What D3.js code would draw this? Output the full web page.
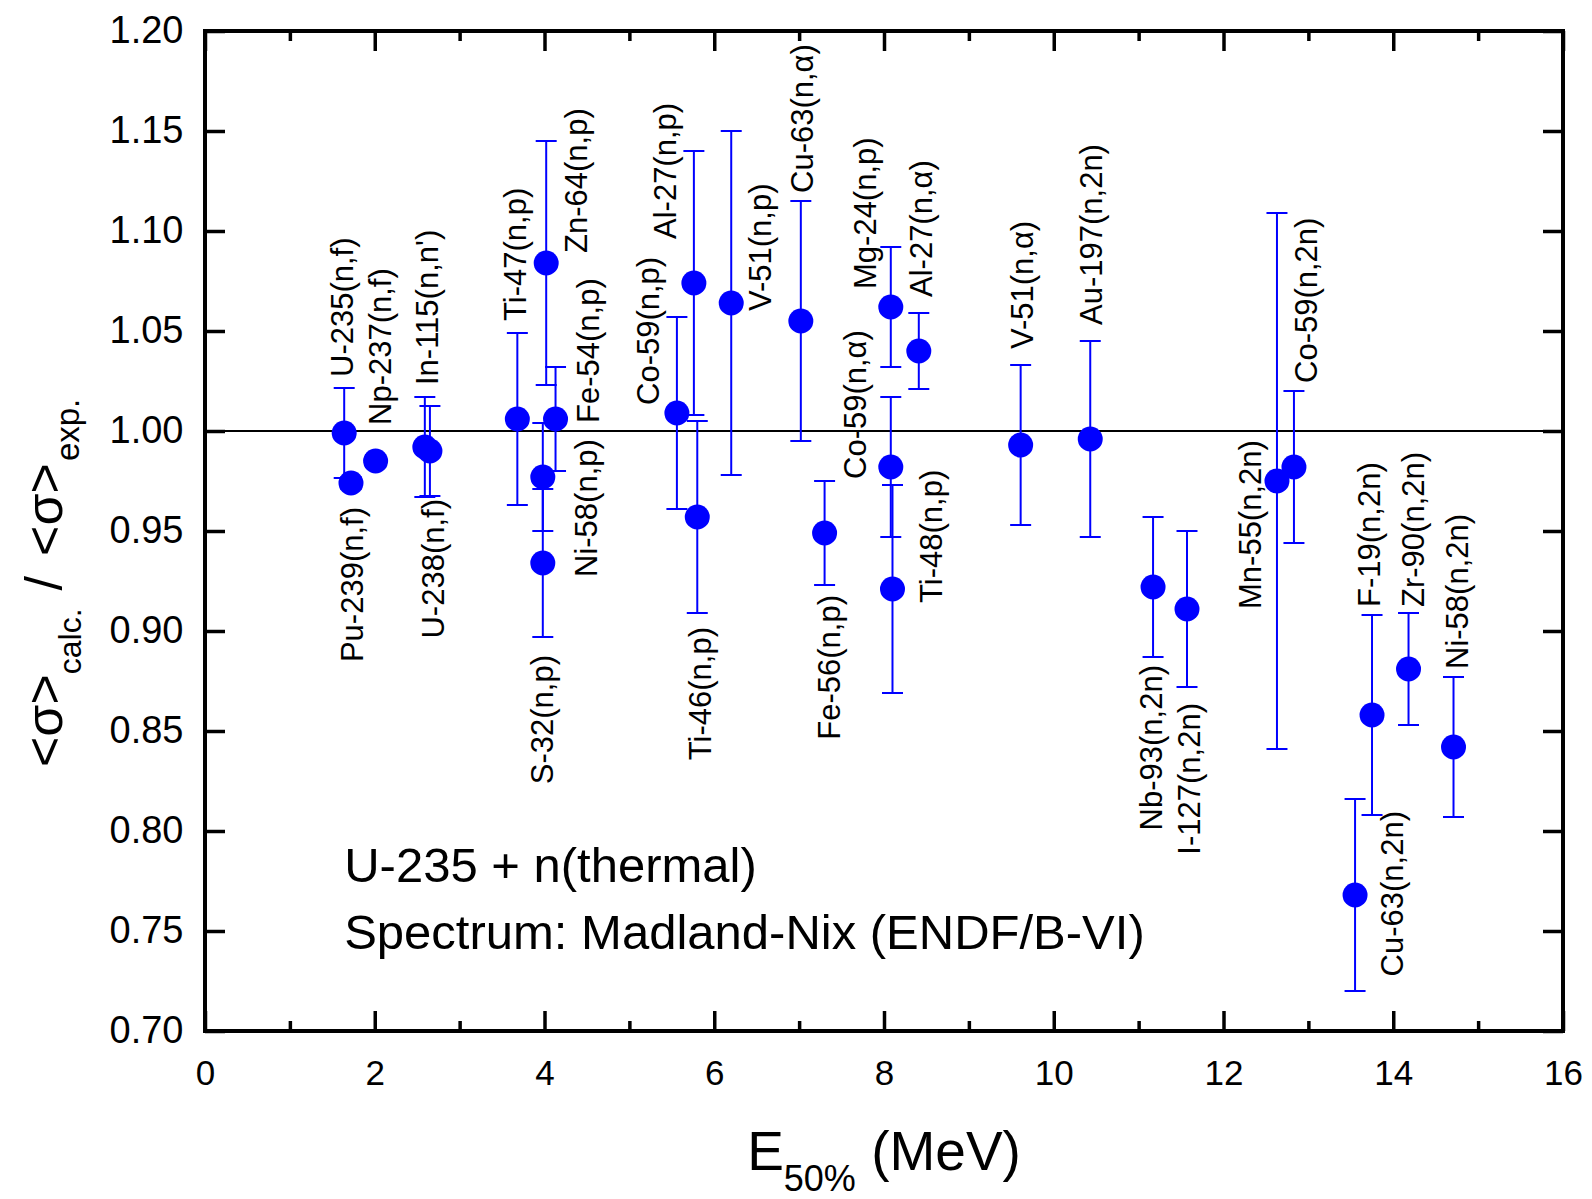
<!DOCTYPE html>
<html>
<head>
<meta charset="utf-8">
<script src="https://cdn.jsdelivr.net/npm/d3@7"></script>
<style>
  body { margin: 0; background: #fff; }
  svg text { font-family: "Liberation Sans", Arial, sans-serif; fill: #000; }
</style>
</head>
<body>
<div id="chart"></div>
<script>
// reactions, E50% (MeV), calc/exp ratio and its error
var names = ["U-235(n,f)", "Pu-239(n,f)", "Np-237(n,f)", "In-115(n,n')", "U-238(n,f)",
    "Ti-47(n,p)", "Zn-64(n,p)", "Fe-54(n,p)", "Ni-58(n,p)", "S-32(n,p)",
    "Co-59(n,p)", "Al-27(n,p)", "Ti-46(n,p)", "V-51(n,p)", "Cu-63(n,\u03b1)",
    "Fe-56(n,p)", "Mg-24(n,p)", "Co-59(n,\u03b1)", "Ti-48(n,p)", "Al-27(n,\u03b1)",
    "V-51(n,\u03b1)", "Au-197(n,2n)", "Nb-93(n,2n)", "I-127(n,2n)", "Mn-55(n,2n)",
    "Co-59(n,2n)", "Cu-63(n,2n)", "F-19(n,2n)", "Zr-90(n,2n)", "Ni-58(n,2n)"];
var energy = [1.64, 1.72, 2.01, 2.59, 2.65, 3.68, 4.02, 4.13, 3.98, 3.98,
    5.56, 5.76, 5.80, 6.20, 7.02, 7.30, 8.08, 8.08, 8.10, 8.41,
    9.61, 10.43, 11.17, 11.57, 12.63, 12.83, 13.55, 13.75, 14.18, 14.71];
var ratio = [0.999, 0.974, 0.985, 0.992, 0.990, 1.006, 1.084, 1.006, 0.977, 0.934,
    1.009, 1.074, 0.957, 1.064, 1.055, 0.949, 1.062, 0.982, 0.921, 1.040,
    0.993, 0.996, 0.922, 0.911, 0.975, 0.982, 0.768, 0.858, 0.881, 0.842];
var err = [0.0225, 0.003, 0.003, 0.025, 0.0225, 0.043, 0.061, 0.026, 0.027, 0.037,
    0.048, 0.066, 0.048, 0.086, 0.060, 0.026, 0.030, 0.035, 0.052, 0.019,
    0.040, 0.049, 0.035, 0.039, 0.134, 0.038, 0.048, 0.050, 0.028, 0.035];

// where each reaction label sits (data units) and which end is anchored there
var labelE = [1.62, 1.74, 2.07, 2.62, 2.69, 3.66, 4.38, 4.52, 4.49, 3.98,
    5.23, 5.43, 5.84, 6.55, 7.04, 7.36, 7.78, 7.67, 8.56, 8.44,
    9.63, 10.45, 11.15, 11.60, 12.32, 12.98, 13.99, 13.72, 14.24, 14.76];
var labelR = [1.027, 0.962, 1.003, 1.023, 0.966, 1.055, 1.089, 1.004, 0.927, 0.888,
    1.013, 1.096, 0.902, 1.060, 1.119, 0.918, 1.071, 0.976, 0.914, 1.067,
    1.041, 1.053, 0.883, 0.864, 0.911, 1.024, 0.810, 0.912, 0.912, 0.881];
var labelAnchor = ["start", "end", "start", "start", "end", "start", "start", "start", "start", "end",
    "start", "start", "end", "start", "start", "end", "start", "start", "start", "start",
    "start", "start", "end", "end", "start", "start", "end", "start", "start", "start"];

var xTicks = [0, 2, 4, 6, 8, 10, 12, 14, 16];
var xMinor = [1, 3, 5, 7, 9, 11, 13, 15];
var yTicks = [0.70, 0.75, 0.80, 0.85, 0.90, 0.95, 1.00, 1.05, 1.10, 1.15, 1.20];
var notes = ["U-235 + n(thermal)", "Spectrum: Madland-Nix (ENDF/B-VI)"];

var margin = {top: 31, right: 29, bottom: 168, left: 205},
    width = 1592 - margin.left - margin.right,
    height = 1199 - margin.top - margin.bottom;

var svg = d3.select("#chart")
    .append("svg")
        .attr("width", 1592)
        .attr("height", 1199)
    .append("g")
        .attr("transform", "translate(" + margin.left + "," + margin.top + ")");

var x = d3.scaleLinear().domain([0, 16]).range([0, width]);
var y = d3.scaleLinear().domain([0.70, 1.20]).range([height, 0]);

var blue = "#0000ff";

// reference line at ratio 1
svg.append("line")
    .attr("x1", 0).attr("x2", width)
    .attr("y1", y(1)).attr("y2", y(1))
    .attr("stroke", "#000").attr("stroke-width", 2);

var pts = names.map(function(d, i) {
    return {name: d, e: energy[i], r: ratio[i], err: err[i],
            le: labelE[i], lr: labelR[i], anchor: labelAnchor[i]};
});

// error bars
var eb = svg.selectAll("g.errbar")
    .data(pts)
    .enter()
    .append("g")
        .attr("class", "errbar")
        .attr("stroke", blue)
        .attr("stroke-width", 2);
eb.append("line")
    .attr("x1", function(d) { return x(d.e); })
    .attr("x2", function(d) { return x(d.e); })
    .attr("y1", function(d) { return y(d.r + d.err); })
    .attr("y2", function(d) { return y(d.r - d.err); });
eb.append("line")
    .attr("x1", function(d) { return x(d.e) - 10.5; })
    .attr("x2", function(d) { return x(d.e) + 10.5; })
    .attr("y1", function(d) { return y(d.r + d.err); })
    .attr("y2", function(d) { return y(d.r + d.err); });
eb.append("line")
    .attr("x1", function(d) { return x(d.e) - 10.5; })
    .attr("x2", function(d) { return x(d.e) + 10.5; })
    .attr("y1", function(d) { return y(d.r - d.err); })
    .attr("y2", function(d) { return y(d.r - d.err); });

svg.selectAll("circle.dot")
    .data(pts)
    .enter()
    .append("circle")
        .attr("class", "dot")
        .attr("r", 12.5)
        .attr("cx", function(d) { return x(d.e); })
        .attr("cy", function(d) { return y(d.r); })
        .attr("fill", blue);

// rotated reaction labels
svg.selectAll("text.lbl")
    .data(pts)
    .enter()
    .append("text")
        .attr("class", "lbl")
        .attr("transform", function(d) {
            return "translate(" + x(d.le) + "," + y(d.lr) + ") rotate(-90)";
        })
        .attr("text-anchor", function(d) { return d.anchor; })
        .attr("dominant-baseline", "central")
        .style("font-size", "31px")
        .text(function(d) { return d.name; });

// axes: ticks point inward on all four sides
function styleAxis(g) {
    g.select(".domain").remove();
    g.selectAll(".tick line").attr("stroke", "#000").attr("stroke-width", 3.5);
}

svg.append("g")
    .attr("transform", "translate(0," + height + ")")
    .call(d3.axisBottom(x).tickValues(xTicks).tickSize(-20).tickFormat(d3.format("d")))
    .call(styleAxis)
    .call(function(g) {
        g.selectAll("text")
            .attr("y", 54).attr("dy", null)
            .style("font-size", "35px").attr("font-family", null);
    });
svg.append("g")
    .attr("transform", "translate(0," + height + ")")
    .call(d3.axisBottom(x).tickValues(xMinor).tickSize(-10).tickFormat(""))
    .call(styleAxis);
svg.append("g")
    .call(d3.axisTop(x).tickValues(xTicks).tickSize(-20).tickFormat(""))
    .call(styleAxis);
svg.append("g")
    .call(d3.axisTop(x).tickValues(xMinor).tickSize(-10).tickFormat(""))
    .call(styleAxis);
svg.append("g")
    .call(d3.axisLeft(y).tickValues(yTicks).tickSize(-20).tickFormat(d3.format(".2f")))
    .call(styleAxis)
    .call(function(g) {
        g.selectAll("text")
            .attr("x", -21.5).attr("dy", "0.3em")
            .style("font-size", "38px").attr("font-family", null);
    });
svg.append("g")
    .attr("transform", "translate(" + width + ",0)")
    .call(d3.axisRight(y).tickValues(yTicks).tickSize(-20).tickFormat(""))
    .call(styleAxis);

// frame
svg.append("rect")
    .attr("width", width).attr("height", height)
    .attr("fill", "none")
    .attr("stroke", "#000")
    .attr("stroke-width", 4);

// annotation
svg.selectAll("text.note")
    .data(notes)
    .enter()
    .append("text")
        .attr("class", "note")
        .attr("x", x(1.64))
        .attr("y", function(d, i) { return y(0.8) + 51 + i * 66.5; })
        .style("font-size", "49px")
        .text(function(d) { return d; });

// x title
var xt = svg.append("text")
    .attr("x", width / 2)
    .attr("y", height + 139)
    .attr("text-anchor", "middle")
    .style("font-size", "55px");
xt.append("tspan").text("E");
xt.append("tspan").attr("dy", 21).style("font-size", "36px").text("50%");
xt.append("tspan").attr("dy", -21).text("\u00a0(MeV)");

// y title
var yt = svg.append("text")
    .attr("transform", "translate(" + (62 - margin.left) + "," + (767 - margin.top) + ") rotate(-90)")
    .style("font-size", "52px");
yt.append("tspan").text("<\u03c3>");
yt.append("tspan").attr("dy", 19).style("font-size", "32px").text("calc.");
yt.append("tspan").attr("dy", -19).attr("dx", 18).text("/");
yt.append("tspan").attr("dx", 20).text("<\u03c3>");
yt.append("tspan").attr("dy", 17).attr("dx", 2).style("font-size", "33px").text("exp.");
</script>
</body>
</html>
